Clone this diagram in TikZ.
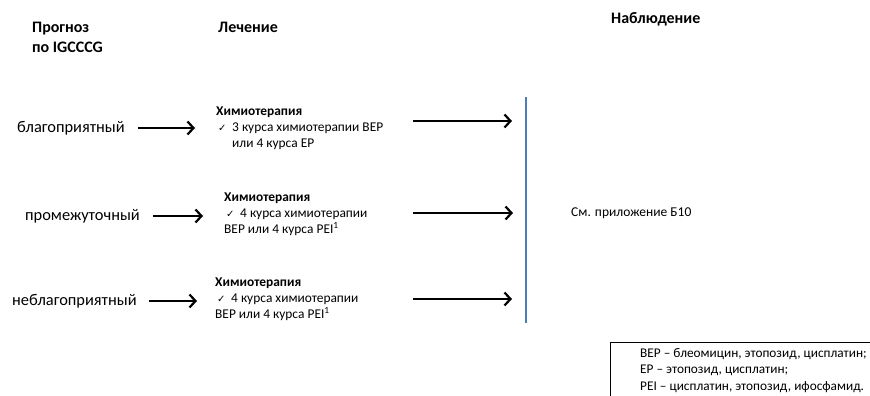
\documentclass[tikz,border=0pt]{standalone}
\usepackage{fontspec}
\setmainfont{Carlito}
\newfontfamily\symfont{DejaVu Sans}
\usetikzlibrary{arrows.meta}
\definecolor{obsblue}{HTML}{4A7EBB}
\newcommand{\ck}{\makebox[16pt][l]{\hspace{2pt}{\symfont\fontsize{10}{10}\selectfont ✓}}}
\begin{document}
\begin{tikzpicture}[x=1pt,y=-1pt,
  head/.style={anchor=west,inner sep=0pt,font=\fontsize{16}{20}\selectfont\bfseries,align=left},
  prog/.style={anchor=west,inner sep=0pt,font=\fontsize{16.4}{19}\selectfont},
  block/.style={anchor=north west,inner sep=0pt,align=left,font=\fontsize{13.4}{16}\selectfont},
  arr/.style={line width=2.2pt,-{Straight Barb[length=6pt,width=13pt,line width=2.2pt]}},
  obsline/.style={draw=obsblue,line width=1.1pt}]
\clip (0,0) rectangle (870,396);
\useasboundingbox (0,0) rectangle (870,396);
% headings
\node[head] (hprog) at (32,37) {Прогноз\\по IGCCCG};
\node[head] (htreat) at (218,27) {Лечение};
\node[head] (hobs) at (611,19) {Наблюдение};
% prognosis
\node[prog] (p1) at (17,128) {благоприятный};
\node[prog] (p2) at (25,216) {промежуточный};
\node[prog] (p3) at (12,301) {неблагоприятный};
% treatment blocks
\node[block] (t1) at (216,107) {{\bfseries Химиотерапия}\\\ck 3 курса химиотерапии BEP\\\hspace*{16pt}или 4 курса EP};
\node[block] (t2) at (224,193) {{\bfseries Химиотерапия}\\\ck 4 курса химиотерапии\\BEP или 4 курса PEI\textsuperscript{1}};
\node[block] (t3) at (215,278) {{\bfseries Химиотерапия}\\\ck 4 курса химиотерапии\\BEP или 4 курса PEI\textsuperscript{1}};
% observation line
\coordinate (vt) at (526,97);
\coordinate (vb) at (526,323);
\draw[obsline] (vt) -- (vb);
\node[anchor=west,inner sep=0pt,font=\fontsize{13.5}{16}\selectfont] (obs) at (571,213) {См. приложение Б10};
% left arrows
\coordinate (la1) at (195,128);
\coordinate (la2) at (203,216);
\coordinate (la3) at (197,301);
\draw[arr] ([xshift=13pt]p1.east) -- (la1);
\draw[arr] ([xshift=13pt]p2.east) -- (la2);
\draw[arr] ([xshift=12pt]p3.east) -- (la3);
% right arrows
\coordinate (rs1) at (413,121);
\coordinate (re1) at (512,121);
\coordinate (rs2) at (413,213);
\coordinate (re2) at (513,213);
\coordinate (rs3) at (413,299);
\coordinate (re3) at (512,299);
\draw[arr] (rs1) -- (re1);
\draw[arr] (rs2) -- (re2);
\draw[arr] (rs3) -- (re3);
% legend
\node[anchor=north west,inner sep=0pt,align=left,font=\fontsize{13.3}{16.5}\selectfont] (leg) at (640,348)
  {BEP – блеомицин, этопозид, цисплатин;\\EP – этопозид, цисплатин;\\PEI – цисплатин, этопозид, ифосфамид.};
\coordinate (lgbl) at (610,400);
\coordinate (lgtl) at (610,342);
\coordinate (lgtr) at (880,342);
\draw[line width=0.8pt] (lgbl) -- (lgtl) -- (lgtr);
\end{tikzpicture}
\end{document}
